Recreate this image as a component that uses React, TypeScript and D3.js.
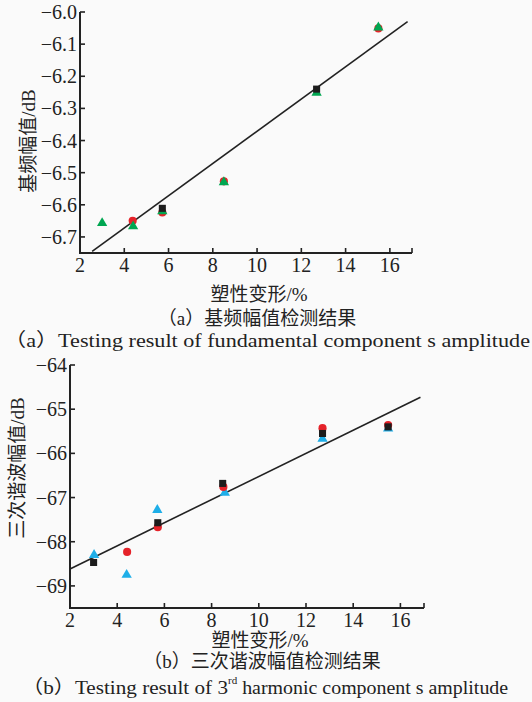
import React from 'react';
import * as d3 from 'd3';

// ---------- Data: chart (a) fundamental amplitude ----------
const aGreenX = [3.0, 4.4, 5.72, 8.5, 12.69, 15.48];
const aGreenY = [-6.657, -6.667, -6.62, -6.53, -6.251, -6.048];
const aRedX = [4.38, 5.72, 8.5, 15.48];
const aRedY = [-6.65, -6.624, -6.527, -6.051];
const aBlackX = [5.72, 12.69];
const aBlackY = [-6.611, -6.24];
const aFit = [0.0502, -6.873]; // slope, intercept
const aFitRange = [2.55, 16.8];
const aXTicks = [2, 4, 6, 8, 10, 12, 14, 16];
const aYTicks = [-6.0, -6.1, -6.2, -6.3, -6.4, -6.5, -6.6, -6.7];

// ---------- Data: chart (b) 3rd harmonic amplitude ----------
const bBlueX = [3.02, 4.4, 5.7, 8.56, 12.7, 15.48];
const bBlueY = [-68.3, -68.75, -67.28, -66.89, -65.67, -65.44];
const bRedX = [4.42, 5.72, 8.5, 12.7, 15.48];
const bRedY = [-68.23, -67.67, -66.76, -65.43, -65.36];
const bBlackX = [3.0, 5.72, 8.47, 12.7, 15.48];
const bBlackY = [-68.47, -67.57, -66.68, -65.55, -65.4];
const bFit = [0.2617, -69.14];
const bFitRange = [2.0, 16.85];
const bXTicks = [2, 4, 6, 8, 10, 12, 14, 16];
const bYTicks = [-64, -65, -66, -67, -68, -69];

const SERIF = "Liberation Serif, serif, Noto Sans CJK SC";
const AXIS = '#222';
const C_BLACK = '#1c1c1c';
const C_RED = '#e52229';
const C_GREEN = '#00a651';
const C_BLUE = '#1eaee8';

const sq = d3.symbol().type(d3.symbolSquare).size(50)()!;
const circ = d3.symbol().type(d3.symbolCircle).size(52)()!;
const tri = d3.symbol().type(d3.symbolTriangle).size(46)()!;

type Series = { xs: number[]; ys: number[]; path: string; color: string };

function Panel(props: {
  xDom: [number, number];
  xRange: [number, number];
  yDom: [number, number];
  yRange: [number, number];
  xTicks: number[];
  yTicks: number[];
  yFmt: (v: number) => string;
  fit: number[];
  fitRange: number[];
  series: Series[];
  yLabel: string;
  yLabelX: number;
  yLabelY: number;
  xLabelX: number;
  xLabelY: number;
}) {
  const x = d3.scaleLinear().domain(props.xDom).range(props.xRange);
  const y = d3.scaleLinear().domain(props.yDom).range(props.yRange);
  const [x0, x1] = props.xRange;
  const [yb, yt] = props.yRange;
  const line = d3
    .line<number>()
    .x((d) => x(d))
    .y((d) => y(props.fit[0] * d + props.fit[1]));
  const tk = 5;
  const allXTicks = [...props.xTicks, props.xDom[1]];
  return (
    <g>
      <line x1={x0} x2={x0} y1={yt} y2={yb + 1} stroke={AXIS} strokeWidth={2} />
      <line x1={x0 - 1} x2={x1} y1={yb} y2={yb} stroke={AXIS} strokeWidth={2} />
      {props.yTicks.map((t) => (
        <g key={'y' + t}>
          <line x1={x0} x2={x0 + tk} y1={y(t)} y2={y(t)} stroke={AXIS} strokeWidth={1.6} />
          <text
            x={x0 - 3}
            y={y(t)}
            textAnchor="end"
            dominantBaseline="central"
            fontFamily={SERIF}
            fontSize={20}
            fill="#222"
          >
            {props.yFmt(t)}
          </text>
        </g>
      ))}
      {allXTicks.map((t) => (
        <line key={'xt' + t} x1={x(t)} x2={x(t)} y1={yb} y2={yb - tk} stroke={AXIS} strokeWidth={1.6} />
      ))}
      {props.xTicks.map((t) => (
        <text
          key={'xl' + t}
          x={x(t)}
          y={yb + 12}
          textAnchor="middle"
          dominantBaseline="central"
          fontFamily={SERIF}
          fontSize={20}
          fill="#222"
        >
          {t}
        </text>
      ))}
      <path d={line(props.fitRange) || ''} fill="none" stroke="#222" strokeWidth={1.6} />
      {props.series.map((s, si) =>
        s.xs.map((xv, i) => (
          <path
            key={si + '-' + i}
            d={s.path}
            transform={`translate(${x(xv)},${y(s.ys[i])})`}
            fill={s.color}
          />
        ))
      )}
      <text
        transform={`translate(${props.yLabelX},${props.yLabelY}) rotate(-90)`}
        textAnchor="middle"
        dominantBaseline="central"
        fontFamily={SERIF}
        fontSize={19}
        fill="#222"
      >
        {props.yLabel}
      </text>
      <text
        x={props.xLabelX}
        y={props.xLabelY}
        textAnchor="middle"
        dominantBaseline="central"
        fontFamily={SERIF}
        fontSize={19}
        fill="#222"
      >
        塑性变形/%
      </text>
    </g>
  );
}

export default function App() {
  return (
    <div style={{ position: 'absolute', left: 0, top: 0 }}>
      <svg width={532} height={702} style={{ display: 'block' }}>
        <rect width={532} height={702} fill="#fafafa" />
        <Panel
          xDom={[2, 17]}
          xRange={[80, 412]}
          yDom={[-6.75, -6.0]}
          yRange={[253, 12]}
          xTicks={aXTicks}
          yTicks={aYTicks}
          yFmt={(v) => d3.format('.1f')(v).replace('-', '\u2212')}
          fit={aFit}
          fitRange={aFitRange}
          series={[
            { xs: aRedX, ys: aRedY, path: circ, color: C_RED },
            { xs: aGreenX, ys: aGreenY, path: tri, color: C_GREEN },
            { xs: aBlackX, ys: aBlackY, path: sq, color: C_BLACK },
          ]}
          yLabel="基频幅值/dB"
          yLabelX={28}
          yLabelY={141}
          xLabelX={259}
          xLabelY={294}
        />
        <text x={257} y={318} textAnchor="middle" dominantBaseline="central" fontFamily={SERIF} fontSize={19} fill="#222">
          （a）基频幅值检测结果
        </text>
        <text x={4} y={340} dominantBaseline="central" fontFamily={SERIF} fontSize={19} fill="#222"
          textLength={526} lengthAdjust="spacingAndGlyphs">
          （a）Testing result of fundamental component s amplitude
        </text>

        <Panel
          xDom={[2, 17]}
          xRange={[70, 424]}
          yDom={[-69.5, -64]}
          yRange={[608, 365]}
          xTicks={bXTicks}
          yTicks={bYTicks}
          yFmt={(v) => String(v).replace('-', '\u2212')}
          fit={bFit}
          fitRange={bFitRange}
          series={[
            { xs: bBlueX, ys: bBlueY, path: tri, color: C_BLUE },
            { xs: bRedX, ys: bRedY, path: circ, color: C_RED },
            { xs: bBlackX, ys: bBlackY, path: sq, color: C_BLACK },
          ]}
          yLabel="三次谐波幅值/dB"
          yLabelX={17}
          yLabelY={468}
          xLabelX={260}
          xLabelY={640}
        />
        <text x={262} y={661} textAnchor="middle" dominantBaseline="central" fontFamily={SERIF} fontSize={19} fill="#222">
          （b）三次谐波幅值检测结果
        </text>
        <text x={22} y={687} dominantBaseline="central" fontFamily={SERIF} fontSize={19} fill="#222">
          <tspan textLength={206} lengthAdjust="spacingAndGlyphs">（b）Testing result of 3</tspan>
          <tspan fontSize={11} dy={-7}>rd</tspan>
          <tspan dy={7} textLength={271} lengthAdjust="spacingAndGlyphs"> harmonic component s amplitude</tspan>
        </text>
      </svg>
    </div>
  );
}
